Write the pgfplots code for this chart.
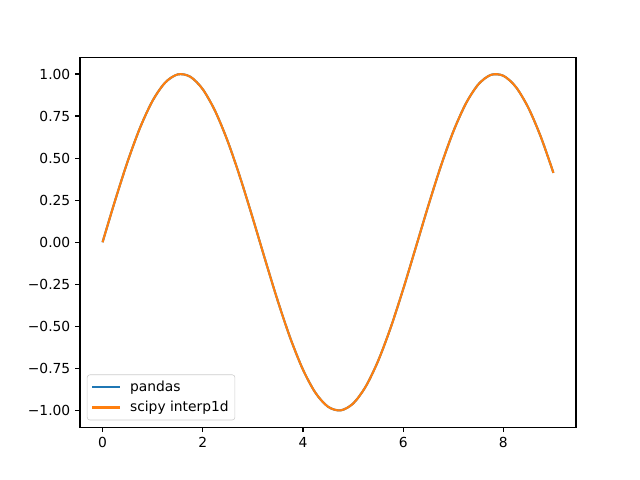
\documentclass[border=0pt]{standalone}
\usepackage{pgfplots}
\pgfplotsset{compat=1.18}
\usepackage{fontspec}
\setmainfont{DejaVu Sans}
\definecolor{c0}{HTML}{1F77B4}
\definecolor{c1}{HTML}{FF7F0E}
\begin{document}
\begin{tikzpicture}
\begin{axis}[
  scale only axis,
  width=358.46pt, height=267.11pt,
  xmin=-0.45, xmax=9.45, ymin=-1.0992, ymax=1.0974,
  xtick={0,2,4,6,8},
  ytick={-1,-0.75,-0.5,-0.25,0,0.25,0.5,0.75,1},
  yticklabels={−1.00,−0.75,−0.50,−0.25,0.00,0.25,0.50,0.75,1.00},
  /pgf/number format/assume math mode=true,
  tick align=outside, tick pos=left,
  major tick length=3.5pt,
  every tick/.style={black, line width=0.8pt},
  axis line style={line width=0.8pt},
  ticklabel style={font=\fontsize{10}{12}\selectfont},
  legend style={at={(0.0139,0.0187)}, anchor=south west, draw=white!80!black, rounded corners=2pt, font=\fontsize{10}{12}\selectfont, row sep=2.5pt, column sep=5pt, inner xsep=3pt, inner ysep=3pt, nodes={inner sep=1.5pt}},
  legend cell align=left,
  legend image code/.code={\draw[#1, line width=1.5pt] (0pt,0pt) -- (20pt,0pt);},
]
\addplot[c0, line width=1.5pt, smooth] coordinates {
(0,0) (0.25,0.2474) (0.5,0.4794) (0.75,0.6816) (1.0,0.8415) (1.25,0.9490) (1.5,0.9975) (1.75,0.9840) (2.0,0.9093) (2.25,0.7781) (2.5,0.5985) (2.75,0.3817) (3.0,0.1411) (3.25,-0.1082) (3.5,-0.3508) (3.75,-0.5716) (4.0,-0.7568) (4.25,-0.8950) (4.5,-0.9775) (4.75,-0.9993) (5.0,-0.9589) (5.25,-0.8589) (5.5,-0.7055) (5.75,-0.5083) (6.0,-0.2794) (6.25,-0.0332) (6.5,0.2151) (6.75,0.4500) (7.0,0.6570) (7.25,0.8231) (7.5,0.9380) (7.75,0.9946) (8.0,0.9894) (8.25,0.9228) (8.5,0.7985) (8.75,0.6247) (9.0,0.4121)
};
\addlegendentry{pandas}
\addplot[c1, line width=1.5pt, smooth] coordinates {
(0,0) (0.25,0.2474) (0.5,0.4794) (0.75,0.6816) (1.0,0.8415) (1.25,0.9490) (1.5,0.9975) (1.75,0.9840) (2.0,0.9093) (2.25,0.7781) (2.5,0.5985) (2.75,0.3817) (3.0,0.1411) (3.25,-0.1082) (3.5,-0.3508) (3.75,-0.5716) (4.0,-0.7568) (4.25,-0.8950) (4.5,-0.9775) (4.75,-0.9993) (5.0,-0.9589) (5.25,-0.8589) (5.5,-0.7055) (5.75,-0.5083) (6.0,-0.2794) (6.25,-0.0332) (6.5,0.2151) (6.75,0.4500) (7.0,0.6570) (7.25,0.8231) (7.5,0.9380) (7.75,0.9946) (8.0,0.9894) (8.25,0.9228) (8.5,0.7985) (8.75,0.6247) (9.0,0.4121)
};
\addlegendentry{scipy interp1d}
\coordinate (sw) at (rel axis cs:0,0);
\end{axis}
\pgfresetboundingbox
\path ([xshift=-57.82pt,yshift=-38.16pt]sw) rectangle ++(462.53pt,346.9pt);
\end{tikzpicture}
\end{document}
